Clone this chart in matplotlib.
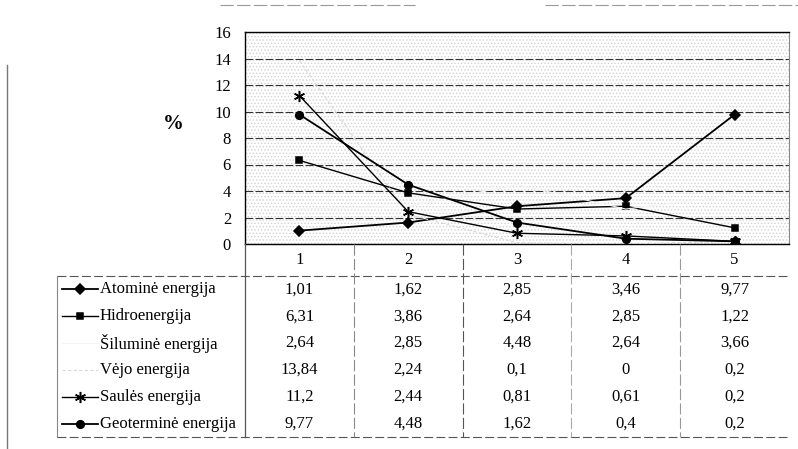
import matplotlib.pyplot as plt
from matplotlib.patches import Rectangle

plt.rcParams['font.family'] = ['Liberation Serif', 'DejaVu Serif']
plt.rcParams['hatch.linewidth'] = 0.6

# data
categories = ['1', '2', '3', '4', '5']
series_names = ['Atominė energija', 'Hidroenergija', 'Šiluminė energija',
                'Vėjo energija', 'Saulės energija', 'Geoterminė energija']
atomine = [1.01, 1.62, 2.85, 3.46, 9.77]
hidro = [6.31, 3.86, 2.64, 2.85, 1.22]
silumine = [2.64, 2.85, 4.48, 2.64, 3.66]
vejo = [13.84, 2.24, 0.1, 0, 0.2]
saules = [11.2, 2.44, 0.81, 0.61, 0.2]
geotermine = [9.77, 4.48, 1.62, 0.4, 0.2]
values = [atomine, hidro, silumine, vejo, saules, geotermine]
yticks = [0, 2, 4, 6, 8, 10, 12, 14, 16]

# style per series (marker, colour, linestyle)
styles = [
    dict(marker='D', color='black', ls='-', ms=5, lw=1.3),
    dict(marker='s', color='black', ls='-', ms=5, lw=1.0),
    dict(marker='', color='#f4f4f4', ls='-', ms=0, lw=0.8),
    dict(marker='', color='#d8d8d8', ls=(0, (3, 2)), ms=0, lw=0.8),
    dict(marker=(6, 2, 0), color='black', ls='-', ms=8, lw=1.0),
    dict(marker='o', color='black', ls='-', ms=5.5, lw=1.3),
]

W, H = 798, 449
fig = plt.figure(figsize=(W / 100, H / 100), dpi=100)

# main plot
L, R, T, B = 245, 789, 32, 244
ax = fig.add_axes([L / W, 1 - B / H, (R - L) / W, (B - T) / H])
x = list(range(len(categories)))
ax.set_xlim(-0.5, len(categories) - 0.5)
ax.set_ylim(0, 16)
ax.add_patch(Rectangle((0, 0), 1, 1, transform=ax.transAxes, facecolor='white',
                       hatch='.....', edgecolor='#d2d2d2', lw=0, zorder=0))
for v in yticks[1:-1]:
    ax.axhline(v, color='#333333', lw=0.8, ls=(0, (7, 2)), zorder=1)
for vals, st in zip(values, styles):
    ax.plot(x, vals, color=st['color'], ls=st['ls'], lw=st['lw'],
            marker=st['marker'], ms=st['ms'], mfc='black', mec='black',
            mew=1.1, zorder=3)
ax.set_yticks(yticks)
ax.set_yticklabels([str(v) for v in yticks], fontsize=12)
ax.tick_params(axis='y', length=0, pad=10)
ax.set_xticks([])
for s in ['left', 'bottom', 'top']:
    ax.spines[s].set_color('black')
    ax.spines[s].set_linewidth(1.0)
ax.spines['right'].set_color('#888888')
ax.spines['right'].set_linewidth(0.8)
fig.text(173 / W, 1 - 124 / H, '%', fontsize=15, fontweight='bold',
         ha='center', va='center')

# data table below the plot
TL, TB, HB = 57, 437, 276
band = (R - L) / len(categories)
row = (TB - HB) / len(series_names)
legend_w = (L - TL) / band
header_h = (HB - B) / row
tax = fig.add_axes([TL / W, 1 - TB / H, (R - TL) / W, (TB - B) / H])
tax.set_xlim(-0.5 - legend_w, len(categories) - 0.5)
tax.set_ylim(len(series_names) - 0.5, -0.5 - header_h)
tax.axis('off')

for j, c in enumerate(categories):
    tax.text(j, -0.5 - header_h / 2, c, ha='center', va='center', fontsize=12)
for i, (name, vals, st) in enumerate(zip(series_names, values, styles)):
    x0 = -0.5 - legend_w + 5 / band
    x1 = x0 + 36 / band
    tax.plot([x0, x1], [i, i], color=st['color'], ls=st['ls'], lw=st['lw'],
             clip_on=False)
    tax.plot([(x0 + x1) / 2], [i], marker=st['marker'] or None, ms=st['ms'],
             color='black', mew=1.1, clip_on=False)
    tax.text(x1 + 2 / band, i, name, ha='left', va='center', fontsize=12)
    for j, v in enumerate(vals):
        tax.text(j, i, f'{v:g}'.replace('.', ','), ha='center', va='center',
                 fontsize=12)

# table grid lines
xl = -0.5 - legend_w
tax.plot([xl, 4.5], [-0.5, -0.5], color='#555555', lw=0.8, ls=(0, (8, 3)),
         clip_on=False)
tax.plot([xl, 4.5], [5.5, 5.5], color='#555555', lw=0.8, ls=(0, (8, 3)),
         clip_on=False)
tax.plot([xl, xl], [-0.5, 5.5], color='#888888', lw=0.8, clip_on=False)
tax.plot([-0.5, -0.5], [-0.5 - header_h, 5.5], color='#555555', lw=0.9,
         clip_on=False)
for k, col in zip([0.5, 1.5, 2.5, 3.5], ['#888888', '#555555', '#aaaaaa', '#999999']):
    tax.plot([k, k], [-0.5 - header_h, 5.5], color=col, lw=0.8,
             ls=(0, (10, 3)), clip_on=False)

# scan edges
fig.add_artist(plt.Line2D([7 / W, 7 / W], [0, 1 - 65 / H], color='#777777', lw=1.0))
fig.add_artist(plt.Line2D([220 / W, 415 / W], [1 - 5 / H, 1 - 5 / H],
                          color='#999999', lw=0.8, ls=(0, (12, 3))))
fig.add_artist(plt.Line2D([545 / W, 1], [1 - 5 / H, 1 - 5 / H],
                          color='#999999', lw=0.8, ls=(0, (12, 3))))

fig.savefig('out.png', dpi=100)
